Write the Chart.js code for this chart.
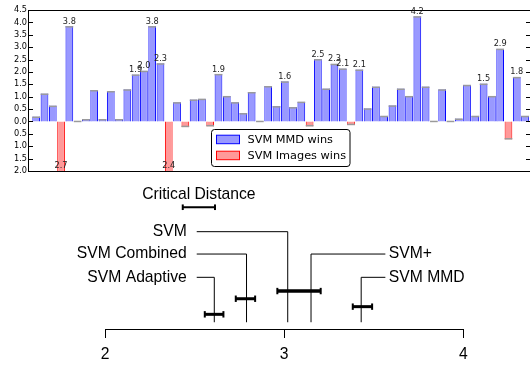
<!DOCTYPE html>
<html>
<head>
<meta charset="utf-8">
<script src="https://cdn.jsdelivr.net/npm/chart.js@4.4.1/dist/chart.umd.min.js"></script>
<style>
  html, body { margin: 0; padding: 0; background: #fff; }
  #wrap { position: relative; width: 530px; height: 367px; overflow: hidden; }
  #bars { position: absolute; left: 0; top: 0; }
  #cd { position: absolute; left: 0; top: 180px; }
</style>
</head>
<body>
<div id="wrap">
  <canvas id="bars" width="530" height="180"></canvas>
  <canvas id="cd" width="530" height="187"></canvas>
</div>
<script>
// ---- top panel: per-dataset difference (positive = SVM MMD wins, negative = SVM Images wins)
const datasetIds = [...Array(60).keys()];
const rankDiff = [
  0.2, 1.13, 0.64, -2.7, 3.85, 0, 0.1, 1.27, 0.1, 1.23,
  0.1, 1.3, 1.9, 2.05, 3.85, 2.35, -2.4, 0.78, -0.23, 0.89,
  0.92, -0.2, 1.92, 1.03, 0.78, 0.34, 1.19, 0, 1.43, 0.62,
  1.62, 0.58, 0.8, -0.2, 2.52, 1.33, 2.33, 2.14, -0.15, 2.1,
  0.53, 1.41, 0.23, 0.65, 1.33, 1.03, 4.25, 1.41, 0, 1.3,
  0, 0.12, 1.48, 0.23, 1.53, 1.03, 2.94, -0.73, 1.8, 0.23
];
const seriesNames = ['SVM MMD wins', 'SVM Images wins'];
const labelThreshold = 1.5;
const yMin = -2, yMax = 4.5, yStep = 0.5;

// ---- bottom panel: critical difference diagram (average ranks)
const methodNames = ['SVM', 'SVM Combined', 'SVM Adaptive', 'SVM+', 'SVM MMD'];
const avgRanks = [3.02, 2.79, 2.61, 3.15, 3.43];
const labelRows = [4.18, 3.22, 2.22, 3.22, 2.22];
const labelSides = ['left', 'left', 'left', 'right', 'right'];
const intervalLow = [2.557, 2.730, 2.962, 3.383];
const intervalHigh = [2.661, 2.838, 3.204, 3.491];
const intervalRows = [0.63, 1.30, 1.63, 0.96];
const intervalWidths = [3, 3, 3.5, 3];
const criticalDistance = 0.18;
const cdStart = 2.434;
const cdRow = 5.23;
const cdLabelRow = 5.76;
const rankTicks = [2, 3, 4];
const stemBottom = 0.29;
const leftLabelEdge = 2.512;
const rightLabelEdge = 3.565;

const BLUE_FILL = '#9999ff', BLUE_EDGE = '#0000ff';
const RED_FILL = '#ff9999', RED_EDGE = '#ff0000';

// bar value labels (truncated to one decimal like the original)
const barLabels = {
  id: 'barLabels',
  afterDatasetsDraw(chart) {
    const {ctx, chartArea} = chart;
    const blue = chart.getDatasetMeta(1), red = chart.getDatasetMeta(2);
    ctx.save();
    ctx.font = '8.2px "DejaVu Sans"';
    ctx.fillStyle = '#222';
    ctx.textAlign = 'center';
    ctx.textBaseline = 'alphabetic';
    rankDiff.forEach((v, i) => {
      if (Math.abs(v) < labelThreshold) return;
      const txt = (Math.floor(Math.abs(v) * 10 + 1e-6) / 10).toFixed(1);
      if (v > 0) {
        const el = blue.data[i];
        ctx.fillText(txt, el.x, el.y - 2.4);
      } else {
        const el = red.data[i];
        ctx.fillText(txt, el.x, Math.min(el.y, chartArea.bottom) - 3.3);
      }
    });
    ctx.restore();
  },
  afterDraw(chart) {
    const {ctx, chartArea: a, scales: {y}} = chart;
    ctx.save();
    ctx.strokeStyle = '#000';
    ctx.lineWidth = 1;
    ctx.beginPath();
    ctx.moveTo(a.left - 0.5, a.top + 0.5); ctx.lineTo(a.right, a.top + 0.5);
    ctx.moveTo(a.left - 0.5, a.bottom + 0.5); ctx.lineTo(a.right, a.bottom + 0.5);
    ctx.moveTo(a.left - 0.5, a.top); ctx.lineTo(a.left - 0.5, a.bottom + 1);
    y.ticks.forEach(t => {
      const py = Math.round(y.getPixelForValue(t.value)) + 0.5;
      ctx.moveTo(a.left, py); ctx.lineTo(a.left + 4, py);
      ctx.moveTo(a.right - 4, py); ctx.lineTo(a.right, py);
    });
    ctx.stroke();

    // legend box
    const bx = 211.5, by = 129.5, bw = 138.5, bh = 37;
    ctx.fillStyle = '#fff';
    ctx.beginPath();
    ctx.roundRect(bx, by, bw, bh, 3);
    ctx.fill();
    ctx.stroke();
    const rows = [[BLUE_FILL, BLUE_EDGE], [RED_FILL, RED_EDGE]];
    ctx.font = '11.3px "DejaVu Sans"';
    ctx.textAlign = 'left';
    ctx.textBaseline = 'middle';
    rows.forEach(([fill, edge], k) => {
      const cy = 139.2 + k * 16;
      ctx.fillStyle = fill;
      ctx.fillRect(216.5, cy - 4, 23, 8.5);
      ctx.strokeStyle = edge;
      ctx.strokeRect(216.5, cy - 4, 23, 8.5);
      ctx.fillStyle = '#000';
      ctx.fillText(seriesNames[k], 247.5, cy + 0.5);
    });
    ctx.restore();
  }
};

const capVals = rankDiff.map(v => v > 0 ? [v - 0.06, v] : v < 0 ? [v, v + 0.06] : [-0.03, 0.03]);

new Chart(document.getElementById('bars'), {
  type: 'bar',
  data: {
    datasets: [
      {
        label: 'caps',
        data: datasetIds.map((x, i) => ({x, y: capVals[i]})),
        backgroundColor: '#9a9a9a',
        borderWidth: 0,
        order: 0
      },
      {
        label: seriesNames[0],
        data: datasetIds.map((x, i) => ({x, y: Math.max(rankDiff[i], 0)})),
        backgroundColor: BLUE_FILL,
        borderColor: BLUE_EDGE,
        borderWidth: {left: 1, right: 1, top: 0, bottom: 0},
        order: 1
      },
      {
        label: seriesNames[1],
        data: datasetIds.map((x, i) => ({x, y: Math.min(rankDiff[i], 0)})),
        backgroundColor: RED_FILL,
        borderColor: RED_EDGE,
        borderWidth: {left: 1, right: 1, top: 0, bottom: 0},
        order: 1
      }
    ]
  },
  options: {
    responsive: false,
    animation: false,
    events: [],
    devicePixelRatio: 1,
    datasets: {
      bar: { grouped: false, categoryPercentage: 1, barPercentage: 0.93 }
    },
    layout: { padding: { top: 10, bottom: 9, left: 0, right: 0 } },
    plugins: { legend: { display: false }, tooltip: { enabled: false } },
    scales: {
      x: { type: 'linear', min: -0.87, max: 59.6, display: false, offset: false, grid: { offset: false } },
      y: {
        min: yMin, max: yMax,
        afterFit(scale) { scale.width = 29; },
        grid: { display: false, drawTicks: false },
        border: { display: false },
        ticks: {
          stepSize: yStep,
          autoSkip: false,
          padding: 2,
          color: '#000',
          font: { family: 'DejaVu Sans', size: 8.2 },
          callback: v => Math.abs(v).toFixed(1)
        }
      }
    }
  },
  plugins: [barLabels]
});

// ---- critical difference diagram
const cdText = {
  id: 'cdText',
  afterDraw(chart) {
    const {ctx, scales: {x, y}} = chart;
    ctx.save();
    ctx.font = '15.7px "Liberation Sans", Arial, sans-serif';
    ctx.fillStyle = '#000';
    ctx.textBaseline = 'middle';
    methodNames.forEach((name, i) => {
      const left = labelSides[i] === 'left';
      ctx.textAlign = left ? 'right' : 'left';
      const px = x.getPixelForValue(left ? leftLabelEdge : rightLabelEdge) + (left ? -10 : 3.5);
      ctx.fillText(name, px, y.getPixelForValue(labelRows[i]));
    });
    ctx.textAlign = 'center';
    ctx.fillText('Critical Distance', x.getPixelForValue(cdStart + criticalDistance / 2), y.getPixelForValue(cdLabelRow));
    ctx.restore();
  }
};

const cdDatasets = [];
avgRanks.forEach((r, i) => {
  const edge = labelSides[i] === 'left' ? leftLabelEdge : rightLabelEdge;
  cdDatasets.push({
    data: [{x: r, y: stemBottom}, {x: r, y: labelRows[i]}, {x: edge, y: labelRows[i]}],
    borderColor: '#000', borderWidth: 1, pointRadius: 0
  });
});
intervalLow.forEach((lo, i) => {
  cdDatasets.push({
    data: [{x: lo, y: intervalRows[i]}, {x: intervalHigh[i], y: intervalRows[i]}],
    borderColor: '#000', borderWidth: intervalWidths[i], borderCapStyle: 'butt',
    pointStyle: 'line', pointRotation: 90, pointRadius: 3.2,
    pointBorderWidth: 2, pointBorderColor: '#000'
  });
});
cdDatasets.push({
  data: [{x: cdStart, y: cdRow}, {x: cdStart + criticalDistance, y: cdRow}],
  borderColor: '#000', borderWidth: 2, borderCapStyle: 'butt',
  pointStyle: 'line', pointRotation: 90, pointRadius: 2.8,
  pointBorderWidth: 2, pointBorderColor: '#000'
});

new Chart(document.getElementById('cd'), {
  type: 'scatter',
  data: { datasets: cdDatasets.map(d => ({...d, showLine: true, clip: false})) },
  options: {
    responsive: false,
    animation: false,
    events: [],
    devicePixelRatio: 1,
    layout: { autoPadding: false, padding: { top: 0, bottom: 0, left: 105, right: 66.7 } },
    plugins: { legend: { display: false }, tooltip: { enabled: false } },
    scales: {
      x: {
        type: 'linear', min: rankTicks[0], max: rankTicks[rankTicks.length - 1],
        afterFit(scale) { scale.height = 38; },
        border: { display: true, color: '#000', width: 1 },
        grid: { drawOnChartArea: false, drawTicks: true, tickLength: 9, color: '#000', lineWidth: 1 },
        afterBuildTicks(scale) { scale.ticks = rankTicks.map(v => ({value: v})); },
        ticks: {
          padding: 7.4,
          color: '#000',
          font: { family: 'Liberation Sans', size: 15.7 },
          callback: v => String(v)
        }
      },
      y: { type: 'linear', min: 0, max: 6.4, display: false }
    }
  },
  plugins: [cdText]
});
</script>
</body>
</html>
